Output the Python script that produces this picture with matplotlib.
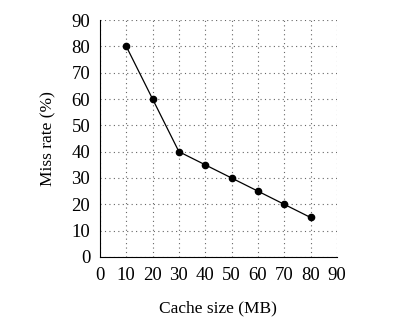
import matplotlib
matplotlib.use('Agg')
import matplotlib.pyplot as plt

# cache size (MB) vs miss rate (%)
cache_size = [10, 20, 30, 40, 50, 60, 70, 80]
miss_rate = [80, 60, 40, 35, 30, 25, 20, 15]
ticks = [0, 10, 20, 30, 40, 50, 60, 70, 80, 90]

plt.rcParams['font.family'] = 'Liberation Serif'

fig = plt.figure(figsize=(4.2, 3.29), dpi=100)
ax = fig.add_axes([0.238, 0.219, 0.564, 0.72])

ax.plot(cache_size, miss_rate, color='black', linewidth=0.9,
        marker='o', markersize=4.5, zorder=3)

ax.set_xlim(0, 90)
ax.set_ylim(0, 90)
ax.set_xticks(ticks)
ax.set_yticks(ticks)
ax.tick_params(length=0, labelsize=13.5, pad=7)
ax.grid(True, color='#666666', linestyle=(0, (1, 3)), linewidth=0.8)

for s in ['top', 'right']:
    ax.spines[s].set_visible(False)
for s in ['left', 'bottom']:
    ax.spines[s].set_linewidth(0.8)

ax.set_xlabel('Cache size (MB)', fontsize=12.5, labelpad=12)
ax.set_ylabel('Miss rate (%)', fontsize=12.5, labelpad=11)

fig.savefig('out.png', dpi=100)
